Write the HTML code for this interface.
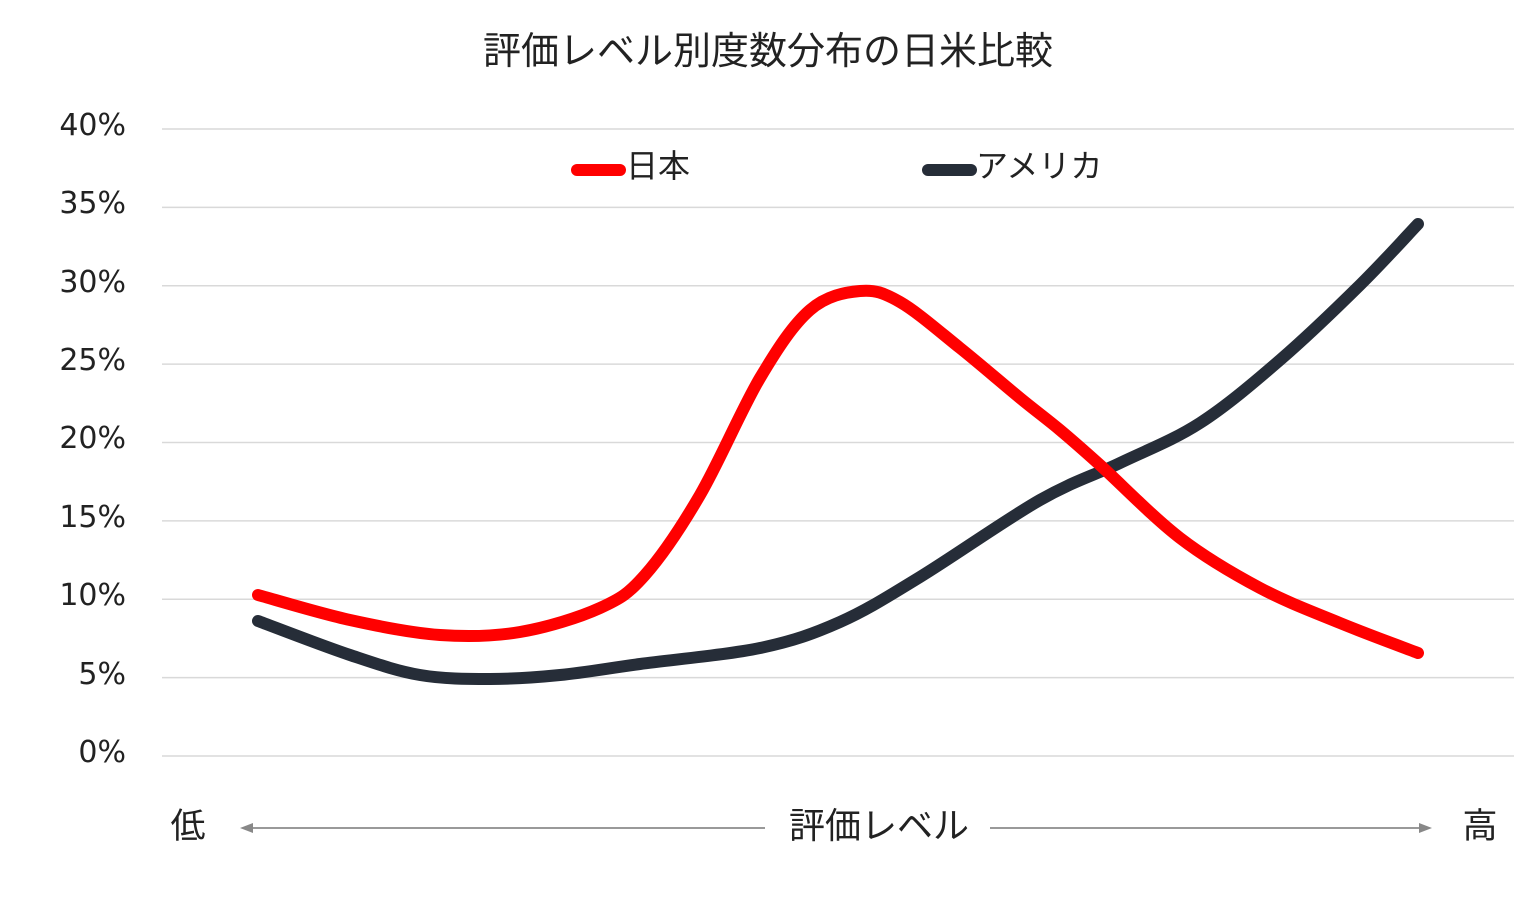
<!DOCTYPE html>
<html><head><meta charset="utf-8"><style>
html,body{margin:0;padding:0;background:#fff;}
svg text{font-family:"Liberation Sans","Noto Sans CJK JP",sans-serif;fill:#222;}
svg text.t{font-family:"DejaVu Sans",sans-serif;}
</style></head><body>
<svg width="1536" height="896" viewBox="0 0 1536 896" xmlns="http://www.w3.org/2000/svg">
<rect width="1536" height="896" fill="#fff"/>
<text x="768" y="64" font-size="38" text-anchor="middle">評価レベル別度数分布の日米比較</text>
<g stroke="#d9d9d9" stroke-width="1.5">
<line x1="162" y1="129" x2="1514" y2="129"/>
<line x1="162" y1="207.4" x2="1514" y2="207.4"/>
<line x1="162" y1="285.8" x2="1514" y2="285.8"/>
<line x1="162" y1="364.1" x2="1514" y2="364.1"/>
<line x1="162" y1="442.5" x2="1514" y2="442.5"/>
<line x1="162" y1="520.9" x2="1514" y2="520.9"/>
<line x1="162" y1="599.3" x2="1514" y2="599.3"/>
<line x1="162" y1="677.6" x2="1514" y2="677.6"/>
<line x1="162" y1="756" x2="1514" y2="756"/>
</g>
<g font-size="30" text-anchor="end">
<text class="t" x="126" y="135">40%</text>
<text class="t" x="126" y="213">35%</text>
<text class="t" x="126" y="292">30%</text>
<text class="t" x="126" y="370">25%</text>
<text class="t" x="126" y="448">20%</text>
<text class="t" x="126" y="527">15%</text>
<text class="t" x="126" y="605">10%</text>
<text class="t" x="126" y="684">5%</text>
<text class="t" x="126" y="762">0%</text>
</g>
<line x1="577" y1="170" x2="620" y2="170" stroke="#ff0000" stroke-width="12" stroke-linecap="round"/>
<text x="626" y="177" font-size="32">日本</text>
<line x1="928" y1="170" x2="971" y2="170" stroke="#262d38" stroke-width="12" stroke-linecap="round"/>
<text x="976" y="177" font-size="32">アメリカ</text>
<path id="us" fill="none" stroke="#262d38" stroke-width="12" stroke-linecap="round" stroke-linejoin="round" d=""/>
<path id="jp" fill="none" stroke="#ff0000" stroke-width="12" stroke-linecap="round" stroke-linejoin="round" d=""/>
<text x="188" y="838" font-size="35" text-anchor="middle">低</text>
<text x="879" y="838" font-size="36" text-anchor="middle">評価レベル</text>
<text x="1480" y="838" font-size="35" text-anchor="middle">高</text>
<g stroke="#999" stroke-width="2">
<line x1="250" y1="828" x2="765" y2="828"/>
<line x1="990" y1="828" x2="1420" y2="828"/>
</g>
<polygon points="240,828 253,823 253,833" fill="#888"/>
<polygon points="1432,828 1419,823 1419,833" fill="#888"/>
</svg>
<script>
function cr(p){var d="M"+p[0][0]+","+p[0][1];for(var i=0;i<p.length-1;i++){var a=p[i-1]||p[i],b=p[i],c=p[i+1],e=p[i+2]||c;
d+=" C"+(b[0]+(c[0]-a[0])/6)+","+(b[1]+(c[1]-a[1])/6)+" "+(c[0]-(e[0]-b[0])/6)+","+(c[1]-(e[1]-b[1])/6)+" "+c[0]+","+c[1];}return d;}
var jp=[[258,595],[350,620],[440,635],[520,632],[600,608],[645,575],[700,495],[760,378],[810,310],[860,291],[900,302],[960,348],[1020,398],[1060,430],[1100,465],[1180,538],[1260,588],[1340,623],[1418,653]];
var us=[[258,621],[350,655],[420,675],[490,679],[560,675],[640,664],[760,648],[840,622],[920,577],[1040,500],[1120,463],[1200,423],[1280,360],[1360,285],[1418,224]];
document.getElementById("jp").setAttribute("d",cr(jp));
document.getElementById("us").setAttribute("d",cr(us));
</script>
</body></html>
